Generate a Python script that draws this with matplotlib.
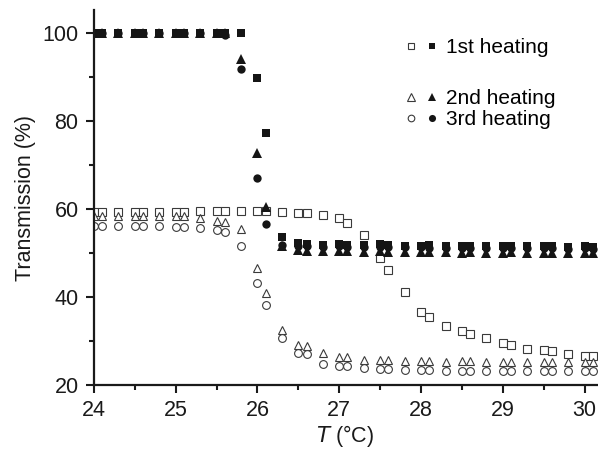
import numpy as np
import matplotlib
matplotlib.use('Agg')
import matplotlib.pyplot as plt
from matplotlib.legend_handler import HandlerTuple

plt.rcParams['font.family'] = ['Liberation Sans', 'DejaVu Sans']

# temperatures (°C) - same for every run
temps = [24.0, 24.1, 24.3, 24.5, 24.6, 24.8, 25.0, 25.1, 25.3, 25.5, 25.6, 25.8,
         26.0, 26.1, 26.3, 26.5, 26.6, 26.8, 27.0, 27.1, 27.3, 27.5, 27.6, 27.8,
         28.0, 28.1, 28.3, 28.5, 28.6, 28.8, 29.0, 29.1, 29.3, 29.5, 29.6, 29.8,
         30.0, 30.1]

# filled symbols
heat1_filled = [100, 100, 100, 100, 100, 100, 100, 100, 100, 100, 100, 100,
                89.8, 77.3, 53.6, 52.2, 52.0, 51.9, 52.0, 51.9, 51.8, 52.0, 51.8,
                51.7, 51.7, 51.8, 51.6, 51.7, 51.7, 51.6, 51.6, 51.7, 51.6, 51.6,
                51.5, 51.4, 51.6, 51.4]
heat2_filled = [100, 100, 100, 100, 100, 100, 100, 100, 100, 100, 100, 94.0,
                72.7, 60.5, 51.5, 50.6, 50.5, 50.4, 50.5, 50.4, 50.3, 50.4, 50.3,
                50.2, 50.3, 50.2, 50.2, 50.1, 50.2, 50.1, 50.1, 50.2, 50.1, 50.0,
                50.1, 50.0, 50.0, 49.9]
heat3_filled = [100, 100, 100, 100, 100, 100, 100, 100, 100, 100, 99.5, 91.8,
                67.0, 56.6, 51.8, 51.6, 51.5, 51.4, 51.5, 51.4, 51.3, 51.4, 51.3,
                51.3, 51.3, 51.2, 51.2, 51.2, 51.2, 51.2, 51.1, 51.2, 51.1, 51.1,
                51.1, 51.0, 51.1, 51.0]

# open symbols
heat1_open = [59.3, 59.3, 59.3, 59.3, 59.3, 59.3, 59.3, 59.4, 59.5, 59.5, 59.5, 59.6,
              59.6, 59.6, 59.4, 59.2, 59.0, 58.7, 58.0, 56.9, 54.2, 48.9, 46.1, 41.1,
              36.7, 35.5, 33.5, 32.3, 31.6, 30.6, 29.6, 29.1, 28.3, 28.0, 27.8, 27.0,
              26.7, 26.6]
heat2_open = [58.4, 58.4, 58.4, 58.4, 58.4, 58.4, 58.3, 58.3, 57.9, 57.3, 57.1, 55.4,
              46.5, 41.0, 32.5, 29.1, 28.9, 27.2, 26.4, 26.4, 25.8, 25.8, 25.8, 25.5,
              25.4, 25.4, 25.3, 25.4, 25.4, 25.3, 25.3, 25.3, 25.3, 25.3, 25.3, 25.3,
              25.2, 25.3]
heat3_open = [56.1, 56.1, 56.1, 56.1, 56.1, 56.1, 56.0, 56.0, 55.6, 55.2, 54.8, 51.6,
              43.3, 38.2, 30.6, 27.2, 27.0, 24.9, 24.3, 24.3, 23.8, 23.6, 23.6, 23.4,
              23.4, 23.4, 23.3, 23.3, 23.3, 23.3, 23.3, 23.3, 23.2, 23.3, 23.3, 23.2,
              23.2, 23.2]

fig = plt.figure(figsize=(5.98, 4.51), dpi=100)
ax = fig.add_axes([0.157, 0.146, 0.841, 0.832])

ec = '#3a3a3a'
fc = '#151515'
sq_o, = ax.plot(temps, heat1_open, 's', ms=5.2, mfc='white', mec=ec, mew=0.8)
tr_o, = ax.plot(temps, heat2_open, '^', ms=6.2, mfc='white', mec=ec, mew=0.8)
ci_o, = ax.plot(temps, heat3_open, 'o', ms=5.6, mfc='white', mec=ec, mew=0.8)
sq_f, = ax.plot(temps, heat1_filled, 's', ms=5.4, color=fc, mew=0)
tr_f, = ax.plot(temps, heat2_filled, '^', ms=6.6, color=fc, mew=0)
ci_f, = ax.plot(temps, heat3_filled, 'o', ms=6, color=fc, mew=0)

ax.set_xlim(24, 30.15)
ax.set_ylim(20, 105.2)
ax.set_xticks(np.arange(24, 31, 1))
ax.set_xticks(np.arange(24.5, 30.1, 1), minor=True)
ax.set_yticks(np.arange(20, 101, 20))
ax.set_yticks(np.arange(30, 100, 20), minor=True)

for s in ['top', 'right']:
    ax.spines[s].set_visible(False)
for s in ['left', 'bottom']:
    ax.spines[s].set_linewidth(1.6)
    ax.spines[s].set_color('#1a1a1a')

ax.tick_params(which='major', direction='out', length=6, width=1.5,
               labelsize=15.5, colors='#1a1a1a', pad=5)
ax.tick_params(which='minor', direction='out', length=3.5, width=1.5,
               colors='#1a1a1a')

ax.set_ylabel('Transmission (%)', fontsize=15.5, color='#1a1a1a', labelpad=5)
ax.set_xlabel('$\\mathit{T}$ (°C)', fontsize=15.5, color='#1a1a1a', labelpad=1)

hm = {tuple: HandlerTuple(ndivide=None, pad=0.6)}
leg1 = ax.legend([(sq_o, sq_f)], ['1st heating'], loc='center left',
                 bbox_to_anchor=(0.622, 0.899), frameon=False, fontsize=15,
                 handler_map=hm, markerscale=0.85,
                 handlelength=1.4, handletextpad=0.5, borderpad=0, borderaxespad=0)
ax.add_artist(leg1)
ax.legend([(tr_o, tr_f), (ci_o, ci_f)], ['2nd heating', '3rd heating'],
          loc='center left', bbox_to_anchor=(0.622, 0.736), frameon=False,
          fontsize=15, handler_map=hm, markerscale=0.85,
          handlelength=1.4, handletextpad=0.5, borderpad=0, borderaxespad=0,
          labelspacing=0.1)

fig.savefig('out.png', dpi=100)
